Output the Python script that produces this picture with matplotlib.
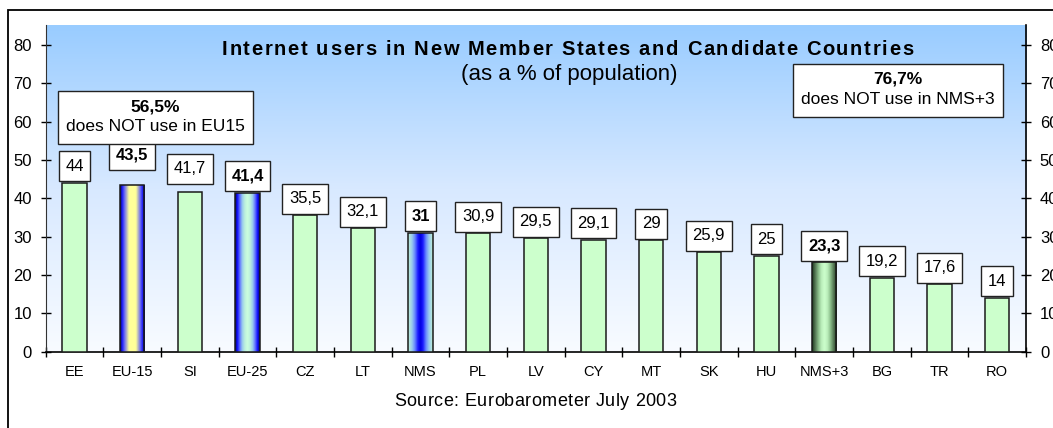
import numpy as np
import matplotlib
matplotlib.use("Agg")
from matplotlib import pyplot as plt
from matplotlib.colors import LinearSegmentedColormap
from matplotlib.patches import Rectangle
from matplotlib.path import Path
from matplotlib.font_manager import FontProperties, findfont, get_font

plt.rcParams['font.family'] = ['Liberation Sans', 'DejaVu Sans']

# data
countries = ['EE', 'EU-15', 'SI', 'EU-25', 'CZ', 'LT', 'NMS', 'PL', 'LV',
             'CY', 'MT', 'SK', 'HU', 'NMS+3', 'BG', 'TR', 'RO']
users = [44, 43.5, 41.7, 41.4, 35.5, 32.1, 31, 30.9, 29.5,
         29.1, 29, 25.9, 25, 23.3, 19.2, 17.6, 14]
aggregates = ['EU-15', 'EU-25', 'NMS', 'NMS+3']
not_use_eu15 = 56.5
not_use_nms3 = 76.7

# label lift above bar top (pixels), a few were moved by hand in the original
lift = {'EU-15': 15, 'SI': 8}

W, H = 1053, 428
fig = plt.figure(figsize=(W / 100, H / 100), dpi=100)


def fx(px):
    return px / W


def fy(py):
    return 1 - py / H


def spaced(xc, yb, s, size, width, weight='normal'):
    # text drawn char by char so it gets the wide letter spacing of the original
    prop = FontProperties(family='Liberation Sans', weight=weight, size=size)
    font = get_font(findfont(prop))
    font.set_size(size, 100)
    adv = [font.load_char(ord(ch)).linearHoriAdvance / 65536 for ch in s]
    track = (width - sum(adv)) / (len(s) - 1)
    cur = xc - width / 2
    for ch, a in zip(s, adv):
        fig.text(fx(cur), fy(yb), ch, ha='left', va='baseline',
                 fontproperties=prop)
        cur += a + track


def sym(stops):
    # mirror half a gradient (edge -> centre) into a full one
    left = [(p / 2, c) for p, c in stops]
    right = [(1 - p / 2, c) for p, c in reversed(stops)]
    return left + right[1:]


def label_box(x0, y0, width, height, mutation_size):
    px, py = 0.4 * mutation_size, 0.45 * mutation_size
    x0, y0 = x0 - px, y0 - py
    x1, y1 = x0 + width + 2 * px, y0 + height + 2 * py
    return Path([(x0, y0), (x1, y0), (x1, y1), (x0, y1), (x0, y0)],
                closed=True)


ax = fig.add_axes([fx(45.7), fy(351.5), fx(1026 - 45.7), (351.5 - 25) / H])

# background gradient
bg = LinearSegmentedColormap.from_list('bg', ['#f8fbff', '#d8e9ff', '#99ccff'])
ax.imshow(np.linspace(0, 1, 256).reshape(-1, 1)[::-1], cmap=bg, aspect='auto',
          extent=[0, 1, 0, 1], transform=ax.transAxes, zorder=0)

grads = {
    'EU-15': [(0, '#000070'), (0.18, '#2020ff'), (0.38, '#7777ee'),
              (0.55, '#b8b8c0'), (0.72, '#ffff99'), (1, '#ffff99')],
    'EU-25': [(0, '#000070'), (0.18, '#1010ff'), (0.38, '#6677ff'),
              (0.58, '#99ccee'), (0.78, '#bbeedd'), (1, '#ccffdd')],
    'NMS': [(0, '#bff0d8'), (0.3, '#99ccee'), (0.55, '#6688ff'),
            (0.8, '#1a1aff'), (1, '#0000e0')],
    'NMS+3': [(0, '#1e3a1e'), (0.25, '#557755'), (0.5, '#88bb88'),
              (0.75, '#bbeebb'), (1, '#ccffcc')],
}

bw = 0.42
x = np.arange(len(countries))
for i, (c, v) in enumerate(zip(countries, users)):
    if c in grads:
        bar = ax.bar(i, v, width=bw, facecolor='none', edgecolor='#1a1a1a',
                     linewidth=1.1, zorder=4)[0]
        cm = LinearSegmentedColormap.from_list(c, sym(grads[c]))
        img = ax.imshow(np.linspace(0, 1, 64).reshape(1, -1), cmap=cm,
                        aspect='auto', extent=[i - bw / 2, i + bw / 2, 0, v],
                        interpolation='bilinear', zorder=3)
        img.set_clip_path(bar)
    else:
        ax.bar(i, v, width=bw, color='#ccffcc', edgecolor='#1a1a1a',
               linewidth=1.1, zorder=3)

    lbl = ('%g' % v).replace('.', ',')
    ax.annotate(lbl, (i, v), xytext=(0, (lift.get(c, 1.5) + 7.5) * 0.72),
                textcoords='offset points', ha='center', va='bottom',
                fontsize=12, fontweight='bold' if c in aggregates else 'normal',
                bbox=dict(boxstyle=label_box, fc='white', ec='#222222',
                          lw=1.0), zorder=5)

ax.set_xlim(-0.5, len(countries) - 0.5)
ax.set_ylim(0, 85.2)

ax.set_xticks(np.arange(-0.5, len(countries)), [])
ax.set_xticks(x, countries, minor=True)
ax.tick_params(axis='x', which='major', direction='inout', length=7, width=1)
ax.tick_params(axis='x', which='minor', length=0, pad=9.5, labelsize=10.5)

ax.set_yticks(range(0, 81, 10))
ax.tick_params(axis='y', direction='inout', length=7, width=1, labelsize=12,
               pad=6.5, right=True, labelright=True)

ax.spines['top'].set_visible(False)
ax.spines['left'].set_color('#333333')
ax.spines['left'].set_linewidth(0.8)
ax.spines['right'].set_linewidth(1.2)
ax.spines['bottom'].set_linewidth(1.2)

# titles
spaced(567.5, 55.3,
       'Internet users in New Member States and Candidate Countries',
       14.5, 691, weight='bold')
fig.text(fx(569), fy(80), '(as a % of population)', ha='center',
         va='baseline', fontsize=16)
spaced(535, 406, 'Source: Eurobarometer July 2003', 13, 282)

# annotation boxes
for (x0, y0, x1, y1), pct, txt in [
        ((58, 91, 253, 144), not_use_eu15, 'does NOT use in EU15'),
        ((793, 64, 1003, 117), not_use_nms3, 'does NOT use in NMS+3')]:
    fig.add_artist(Rectangle((fx(x0), fy(y1)), fx(x1 - x0), (y1 - y0) / H,
                             transform=fig.transFigure, fc='white',
                             ec='#222222', lw=1.0, zorder=6))
    cx = fx((x0 + x1) / 2)
    fig.text(cx, fy(y0 + 20), ('%g%%' % pct).replace('.', ','), ha='center',
             va='baseline', fontsize=12.5, fontweight='bold', zorder=7)
    fig.text(cx, fy(y0 + 40), txt, ha='center', va='baseline', fontsize=12.5,
             zorder=7)

# outer frame
fig.add_artist(Rectangle((fx(8), -0.2), 2, fy(10) + 0.2,
                         transform=fig.transFigure, fill=False, ec='black',
                         lw=1.3, zorder=8))

plt.savefig('out.png', dpi=100)
